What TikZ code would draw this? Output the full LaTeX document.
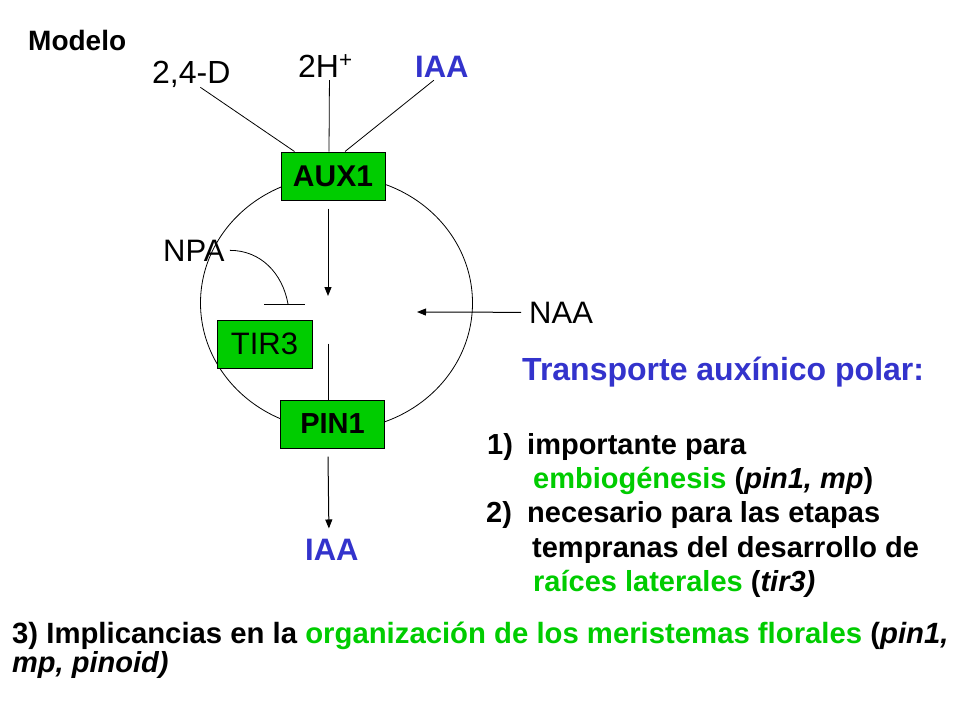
\documentclass[tikz,border=0pt]{standalone}
\usepackage{fontspec}
\setmainfont{Liberation Sans}
\usetikzlibrary{arrows.meta}
\definecolor{boxgreen}{RGB}{0,204,0}
\definecolor{txtgreen}{RGB}{0,204,0}
\definecolor{iaablue}{RGB}{51,51,204}
\newcommand{\fs}[1]{\fontsize{#1}{#1}\selectfont}

\begin{document}
\begin{tikzpicture}[x=1pt, y=-1pt,
		box/.style={draw, rectangle, fill=boxgreen, line width=1pt, minimum width=104pt, minimum height=48pt, inner sep=0pt},
		lbl/.style={anchor=base west, inner sep=0pt},
		listtext/.style={lbl, font=\bfseries\fs{29}},
		arr/.style={line width=1pt, -{Triangle[width=7pt,length=9pt]}},
		thin/.style={line width=0.8pt}]
		\useasboundingbox (0,0) rectangle (960,720);

		% 細胞の輪郭
		\draw[thin] (336.5,303) ellipse [x radius=136, y radius=127];

		% 箱
		\node[box, font=\bfseries\fs{30}] (aux) at (333,176) {AUX1};
		\node[box, font=\bfseries\fs{29}] (pin) at (332.5,424) {PIN1};
		\node[box, minimum width=95pt, font=\fs{31}] (tir) at (264.5,344) {TIR3};

		% 物質の名前
		\node[lbl, font=\bfseries\fs{28}] (modelo) at (28,50) {Modelo};
		\node[lbl, font=\fs{32}] (d24) at (152,83) {2,4-D};
		\node[lbl, font=\fs{32}] (hplus) at (298,77) {2H\textsuperscript{+}};
		\node[lbl, font=\bfseries\fs{31}, text=iaablue] (iaatop) at (415,77) {IAA};
		\node[lbl, font=\fs{31}] (npa) at (163,261) {NPA};
		\node[lbl, font=\fs{31}] (naa) at (529,323) {NAA};
		\node[lbl, font=\bfseries\fs{31}, text=iaablue] (iaabot) at (305,560) {IAA};
		\coordinate (hub) at (328,296);
		\coordinate (naain) at (417,312);
		\coordinate (blk) at (288,304);

		% 線と矢印
		\draw[thin] ([xshift=9pt]d24.south) -- ([xshift=14pt]aux.north west);
		\draw[thin] ([xshift=4pt, yshift=-3pt]hplus.south) -- ([xshift=-4pt]aux.north);
		\draw[thin] ([xshift=-8pt, yshift=-3pt]iaatop.south) -- ([xshift=12pt]aux.north);
		\draw[arr] ([xshift=-5pt, yshift=-8pt]aux.south) -- (hub);
		\draw[line width=1pt] ([xshift=-4.5pt, yshift=56pt]pin.north) -- ([xshift=-4.5pt]pin.north);
		\draw[arr] ([xshift=-4.5pt, yshift=-8pt]pin.south) -- ([xshift=-3pt, yshift=10pt]iaabot.north);
		\draw[arr] ([xshift=-8pt]naa.west) -- (naain);
		\draw[thin] ([xshift=5pt]npa.east) to[out=0, in=100] (blk);
		\draw[line width=1pt] ([xshift=-24pt]blk) -- ([xshift=17pt]blk);

		% 説明文
		\node[lbl, font=\bfseries\fs{32}, text=iaablue] (tap) at (522,380) {Transporte auxínico polar:};
		\node[listtext] (n1) at (487,454) {1)};
		\node[listtext] (l1) at (527,454) {importante para};
		\node[listtext] (l2) at (533,488) {\textcolor{txtgreen}{embiogénesis} (\textit{pin1, mp})};
		\node[listtext] (n2) at (486,522) {2)};
		\node[listtext] (l3) at (527,522) {necesario para las etapas};
		\node[listtext] (l4) at (532,557) {tempranas del desarrollo de};
		\node[listtext] (l5) at (533,591) {\textcolor{txtgreen}{raíces laterales} (\textit{tir3)}};
		\node[listtext, font=\bfseries\fs{29.3}] (b1) at (12,643) {3) Implicancias en la \textcolor{txtgreen}{organización de los meristemas florales} (\textit{pin1,}};
		\node[listtext] (b2) at (12,672) {\textit{mp, pinoid)}};
\end{tikzpicture}
\end{document}
